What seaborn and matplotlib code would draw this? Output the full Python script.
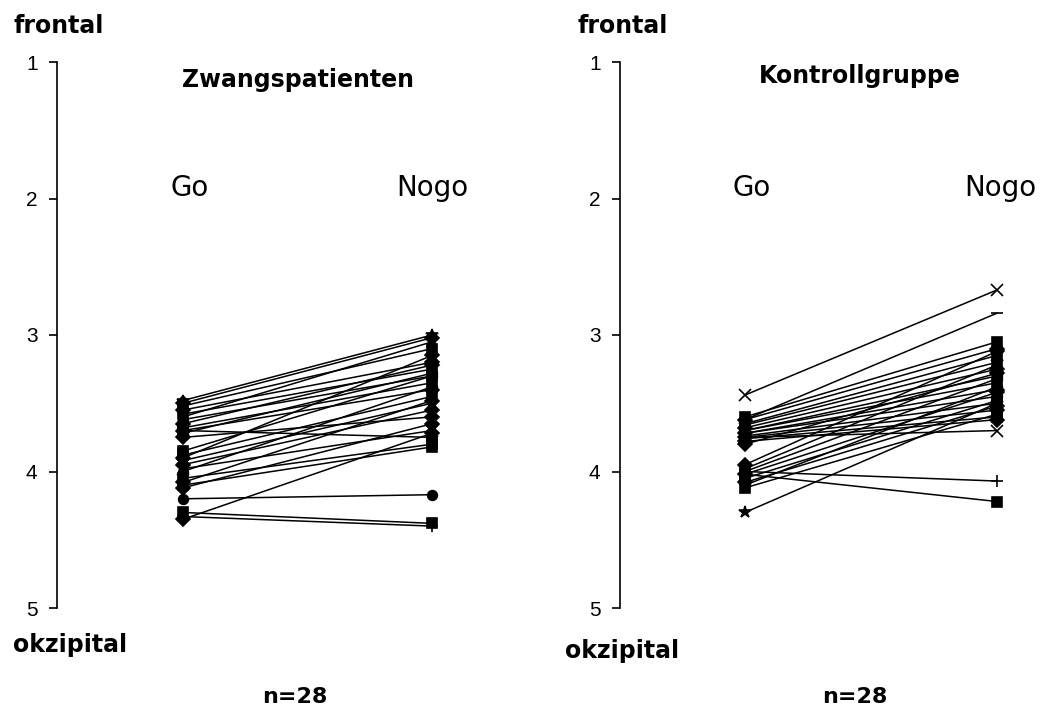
import numpy as np
import pandas as pd
import matplotlib
matplotlib.use("Agg")
import matplotlib.pyplot as plt
import seaborn as sns

# ---------------- data ----------------
conditions = ["Go", "Nogo"]
yticks = [1, 2, 3, 4, 5]

# Zwangspatienten (n=28)
patients_go = [3.48, 3.50, 3.52, 3.55, 3.58, 3.60, 3.62, 3.65, 3.68, 3.70,
               3.72, 3.75, 3.70, 3.88, 3.90, 3.92, 3.95, 3.98, 4.00, 4.05,
               4.08, 4.10, 4.12, 4.20, 4.30, 4.33, 4.35, 3.85]
patients_nogo = [3.00, 3.02, 3.10, 3.20, 3.25, 3.05, 3.30, 3.22, 3.35, 3.40,
                 3.28, 3.60, 3.75, 3.45, 3.15, 3.50, 3.55, 3.70, 3.38, 3.80,
                 3.48, 3.82, 3.65, 4.17, 4.38, 4.40, 3.72, 3.30]

# Kontrollgruppe (n=28)
controls_go = [3.44, 3.62, 3.60, 3.62, 3.65, 3.66, 3.68, 3.70, 3.70, 3.72,
               3.72, 3.74, 3.75, 3.76, 3.78, 3.75, 3.95, 3.98, 4.00, 4.02,
               4.05, 4.08, 4.10, 4.12, 4.00, 4.02, 4.30, 3.80]
controls_nogo = [2.67, 2.84, 3.05, 3.10, 3.15, 3.20, 3.25, 3.30, 3.35, 3.40,
                 3.45, 3.50, 3.55, 3.60, 3.62, 3.70, 3.12, 3.22, 3.32, 3.42,
                 3.48, 3.52, 3.38, 3.58, 4.07, 4.22, 3.50, 3.28]

# marker style per series (Excel-like)
patients_markers = ["*", "D", "s", "D", "s", "^", "o", "D", "s", "D",
                    "o", "D", "s", "s", "D", "*", "D", "x", "o", "s",
                    "D", "s", "D", "o", "s", "+", "D", "s"]
controls_markers = ["x", "_", "s", "D", "s", "*", "D", "o", "s", "D",
                    "o", "s", "D", "s", "D", "x", "D", "s", "o", "D",
                    "s", "D", "o", "s", "+", "s", "*", "D"]


def long_form(go, nogo):
    rows = []
    for i, (g, n) in enumerate(zip(go, nogo)):
        rows.append({"subject": i, "cond": 0, "value": g})
        rows.append({"subject": i, "cond": 1, "value": n})
    return pd.DataFrame(rows)


sns.set_theme(style="white")
plt.rcParams["font.family"] = ["DejaVu Sans"]

W, H = 1040, 713
fig = plt.figure(figsize=(W / 100, H / 100), dpi=100)


def px_axes(left_px, go_px, nogo_px, width_px, top_px=62, bottom_px=608):
    ax = fig.add_axes([left_px / W, 1 - bottom_px / H, width_px / W,
                       (bottom_px - top_px) / H])
    a = -(go_px - left_px) / (nogo_px - go_px)
    b = a + width_px / (nogo_px - go_px)
    ax.set_xlim(a, b)
    return ax


panels = [
    dict(left=57, go=183, nogo=432, width=440, go_data=patients_go,
         nogo_data=patients_nogo, markers=patients_markers,
         title="Zwangspatienten", title_xy=(298, 80),
         frontal_x=13, okz=(13, 645), n_xy=(295, 697), go_lab=(190, 188),
         nogo_lab=(432, 188)),
    dict(left=620, go=745, nogo=997, width=410, go_data=controls_go,
         nogo_data=controls_nogo, markers=controls_markers,
         title="Kontrollgruppe", title_xy=(860, 76),
         frontal_x=577, okz=(565, 651), n_xy=(855, 697), go_lab=(752, 188),
         nogo_lab=(1000, 188)),
]

for p in panels:
    ax = px_axes(p["left"], p["go"], p["nogo"], p["width"])
    df = long_form(p["go_data"], p["nogo_data"])
    for subj, sub in df.groupby("subject"):
        m = p["markers"][subj]
        ms = 9 if m in ("x", "+", "_", "*") else 7
        sns.lineplot(data=sub, x="cond", y="value", color="black",
                     marker=m, markersize=ms, markeredgecolor="black",
                     markerfacecolor="black", markeredgewidth=1.2,
                     linewidth=1.1, estimator=None, ax=ax, legend=False)
    ax.set_ylim(5, 1)
    ax.set_yticks(yticks)
    ax.set_yticklabels([str(t) for t in yticks], fontfamily="Liberation Sans",
                       fontsize=15)
    ax.set_xticks([])
    ax.set_xlabel("")
    ax.set_ylabel("")
    for s in ["top", "right", "bottom"]:
        ax.spines[s].set_visible(False)
    ax.spines["left"].set_color("black")
    ax.spines["left"].set_linewidth(1.2)
    ax.tick_params(axis="y", direction="out", length=6, width=1.2, pad=8,
                   left=True, colors="black")
    ax.patch.set_alpha(0)

    def ft(x, y, s, **kw):
        fig.text(x / W, 1 - y / H, s, color="black", **kw)

    ft(p["frontal_x"], 26, "frontal", fontsize=17, fontweight="bold", va="center")
    ft(p["okz"][0], p["okz"][1], "okzipital", fontsize=17, fontweight="bold",
       va="center")
    ft(p["n_xy"][0], p["n_xy"][1], "n=28", fontsize=16, fontweight="bold",
       ha="center", va="center")
    ft(p["title_xy"][0], p["title_xy"][1], p["title"], fontsize=17,
       fontweight="bold", ha="center", va="center")
    ft(p["go_lab"][0], p["go_lab"][1], conditions[0], fontsize=20,
       ha="center", va="center")
    ft(p["nogo_lab"][0], p["nogo_lab"][1], conditions[1], fontsize=20,
       ha="center", va="center")

fig.savefig("out.png", dpi=100, facecolor="white")
